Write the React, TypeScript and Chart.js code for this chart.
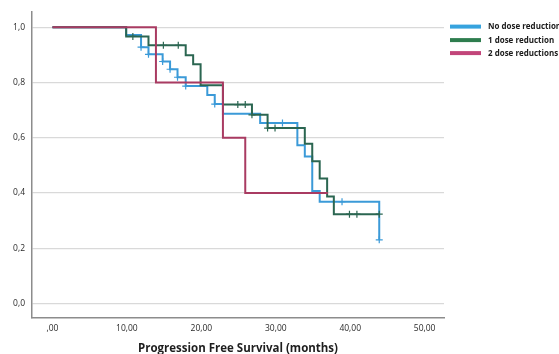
import React, { useEffect, useRef } from "react";
import { Chart, registerables } from "chart.js";

Chart.register(...registerables);

// ---------- data ----------
const seriesNames = ["No dose reduction", "1 dose reduction", "2 dose reductions"];

// No dose reduction (blue)
const noRedTimes = [0, 9.9, 11.9, 12.9, 14.8, 15.8, 16.8, 17.9, 20.8, 21.8, 22.9, 27.9, 32.9, 33.9, 34.9, 35.9, 43.9, 43.9];
const noRedSurv = [1.0, 0.972, 0.928, 0.902, 0.876, 0.848, 0.819, 0.787, 0.755, 0.722, 0.687, 0.653, 0.573, 0.532, 0.407, 0.368, 0.368, 0.23];
const noRedCensorTimes = [11.9, 12.9, 14.8, 15.8, 16.8, 17.9, 21.8, 30.9, 38.9, 43.9];
const noRedCensorSurv = [0.928, 0.902, 0.876, 0.848, 0.819, 0.787, 0.722, 0.653, 0.368, 0.23];

// 1 dose reduction (green)
const oneRedTimes = [0, 9.9, 12.9, 17.9, 18.9, 19.9, 22.9, 26.8, 28.9, 33.9, 34.9, 35.9, 36.9, 37.8, 43.9];
const oneRedSurv = [1.0, 0.967, 0.935, 0.899, 0.866, 0.79, 0.72, 0.683, 0.635, 0.578, 0.515, 0.452, 0.387, 0.323, 0.323];
const oneRedCensorTimes = [10.8, 14.9, 16.9, 24.9, 25.9, 26.8, 28.9, 29.9, 39.9, 40.9, 43.9];
const oneRedCensorSurv = [0.967, 0.935, 0.935, 0.72, 0.72, 0.683, 0.635, 0.635, 0.323, 0.323, 0.323];

// 2 dose reductions (red)
const twoRedTimes = [0, 13.9, 22.9, 25.9, 37.0];
const twoRedSurv = [1.0, 0.8, 0.6, 0.4, 0.4];

const xTickValues = [0, 10, 20, 30, 40, 50];
const xTickLabels = [",00", "10,00", "20,00", "30,00", "40,00", "50,00"];
const yTickValues = [0, 0.2, 0.4, 0.6, 0.8, 1.0];
const yTickLabels = ["0,0", "0,2", "0,4", "0,6", "0,8", "1,0"];
const xTitle = "Progression Free Survival (months)";

// ---------- styles ----------
const lineColors = ["#3b9ad8", "#2b6651", "#a93b62"];
const legendColors = ["#36a3de", "#2e7d4e", "#c2457a"];

const toPts = (xs: number[], ys: number[]) => xs.map((x, i) => ({ x, y: ys[i] }));

const legendPlugin = {
  id: "kmLegend",
  afterDraw(chart: any) {
    const { ctx, chartArea } = chart;
    const x0 = chartArea.right + 6;
    const ys = [chartArea.top + 14.5, chartArea.top + 28, chartArea.top + 41];
    ctx.save();
    seriesNames.forEach((name, i) => {
      ctx.strokeStyle = legendColors[i];
      ctx.lineWidth = 4;
      ctx.beginPath();
      ctx.moveTo(x0, ys[i]);
      ctx.lineTo(x0 + 31, ys[i]);
      ctx.stroke();
      ctx.save();
      ctx.translate(x0 + 38, ys[i]);
      ctx.scale(0.84, 1);
      ctx.fillStyle = "#1a1a1a";
      ctx.font = "bold 9.5px 'Open Sans'";
      ctx.textBaseline = "middle";
      ctx.textAlign = "left";
      ctx.fillText(name, 0, 0);
      ctx.restore();
    });
    ctx.restore();
  },
};

export default function App() {
  const ref = useRef<HTMLCanvasElement>(null);

  useEffect(() => {
    if (!ref.current) return;
    const stepDs = (label: string, xs: number[], ys: number[], color: string, order: number) => ({
      label,
      data: toPts(xs, ys),
      borderColor: color,
      backgroundColor: color,
      borderWidth: 2,
      stepped: true,
      pointRadius: 0,
      fill: false,
      order,
    });
    const censorDs = (label: string, xs: number[], ys: number[], color: string, order: number) => ({
      label,
      data: toPts(xs, ys),
      borderColor: color,
      backgroundColor: color,
      showLine: false,
      pointStyle: "cross",
      pointRadius: 3.5,
      pointBorderWidth: 1.2,
      order,
    });
    const chart = new Chart(ref.current, {
      type: "line",
      data: {
        datasets: [
          stepDs(seriesNames[2], twoRedTimes, twoRedSurv, lineColors[2], 0),
          stepDs(seriesNames[1], oneRedTimes, oneRedSurv, lineColors[1], 1),
          censorDs(seriesNames[1] + " censored", oneRedCensorTimes, oneRedCensorSurv, lineColors[1], 1),
          stepDs(seriesNames[0], noRedTimes, noRedSurv, lineColors[0], 2),
          censorDs(seriesNames[0] + " censored", noRedCensorTimes, noRedCensorSurv, lineColors[0], 2),
        ] as any,
      },
      options: {
        animation: false,
        responsive: false,
        layout: { padding: { top: 10, right: 115, left: 0, bottom: 0 } },
        plugins: { legend: { display: false }, tooltip: { enabled: false } },
        scales: {
          x: {
            type: "linear",
            min: -2.75,
            max: 52.6,
            afterBuildTicks: (scale: any) => {
              scale.ticks = xTickValues.map((v) => ({ value: v }));
            },
            afterFit: (scale: any) => {
              scale.height = 36;
            },
            grid: { display: false, drawTicks: false },
            border: { display: true, color: "#8c8c8c", width: 1.5 },
            ticks: {
              padding: 5,
              color: "#2a2a2a",
              font: { family: "'Open Sans'", size: 8.5 },
              maxRotation: 0,
              autoSkip: false,
              callback: (_v: any, i: number) => xTickLabels[i],
            },
            title: {
              display: true,
              text: xTitle,
              color: "#1e1e1e",
              font: { family: "'Open Sans'", size: 11.5, weight: "bold", lineHeight: 1 },
              padding: { top: 0, bottom: 0 },
            },
          },
          y: {
            type: "linear",
            min: -0.053,
            max: 1.055,
            afterBuildTicks: (scale: any) => {
              scale.ticks = yTickValues.map((v) => ({ value: v }));
            },
            afterFit: (scale: any) => {
              scale.width = 32;
            },
            grid: { display: true, color: "#d9d9d9", lineWidth: 1.2, drawTicks: false },
            border: { display: true, color: "#8c8c8c", width: 1.5 },
            ticks: {
              padding: 7,
              color: "#2a2a2a",
              font: { family: "'Open Sans'", size: 8.5 },
              autoSkip: false,
              callback: (_v: any, i: number) => yTickLabels[i],
            },
          },
        },
      },
      plugins: [legendPlugin],
    });
    return () => chart.destroy();
  }, []);

  return (
    <div style={{ position: "absolute", left: 0, top: 0, width: 559, height: 354, overflow: "hidden", background: "#fff" }}>
      <canvas ref={ref} width={559} height={354} style={{ display: "block" }} />
    </div>
  );
}
